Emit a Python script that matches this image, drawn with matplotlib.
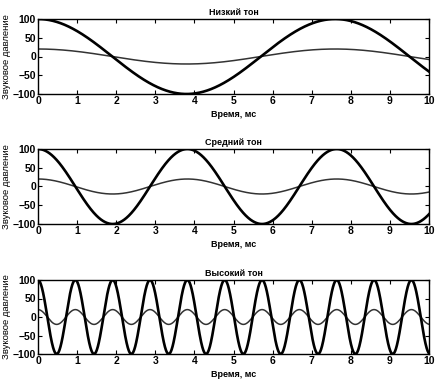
import numpy as np
import matplotlib
matplotlib.use("Agg")
import matplotlib.pyplot as plt

plt.rcParams['font.family'] = ['Liberation Sans', 'DejaVu Sans']

# Data
titles = ["Низкий тон", "Средний тон", "Высокий тон"]
periods_ms = [7.6, 3.82, 0.955]      # period of each tone, ms
amp_loud = 100                        # large wave amplitude
amp_quiet = 20                        # small wave amplitude
xticks = list(range(0, 11))
yticks = [-100, -50, 0, 50, 100]
xlabel = "Время, мс"
ylabel = "Звуковое давление"

t = np.linspace(0, 10, 2000)

fig = plt.figure(figsize=(4.4, 3.82), dpi=100)
W, H = 440, 382
# axes pixel boxes: (left, top, right, bottom)
boxes = [(38, 19, 429, 94), (38, 149, 429, 224), (38, 280, 429, 354)]

for i, (title, P) in enumerate(zip(titles, periods_ms)):
    l, tp, r, b = boxes[i]
    ax = fig.add_axes([l / W, 1 - b / H, (r - l) / W, (b - tp) / H])
    ax.plot(t, amp_quiet * np.cos(2 * np.pi * t / P), color='#333333', lw=1.1)
    ax.plot(t, amp_loud * np.cos(2 * np.pi * t / P), color='black', lw=1.9)
    ax.set_xlim(0, 10)
    ax.set_ylim(-100, 100)
    ax.set_xticks(xticks)
    ax.set_yticks(yticks)
    ax.tick_params(direction='in', top=True, right=True, length=3, width=0.8,
                   labelsize=7.5, pad=1.5)
    for lab in ax.get_xticklabels() + ax.get_yticklabels():
        lab.set_fontweight('bold')
    for s in ax.spines.values():
        s.set_linewidth(1.0)
    ax.set_title(title, fontsize=6.5, fontweight='bold', pad=3)
    ax.set_xlabel(xlabel, fontsize=6.5, fontweight='bold', labelpad=3)
    ax.set_ylabel(ylabel, fontsize=6.8, labelpad=1)

fig.savefig("out.png", dpi=100)
